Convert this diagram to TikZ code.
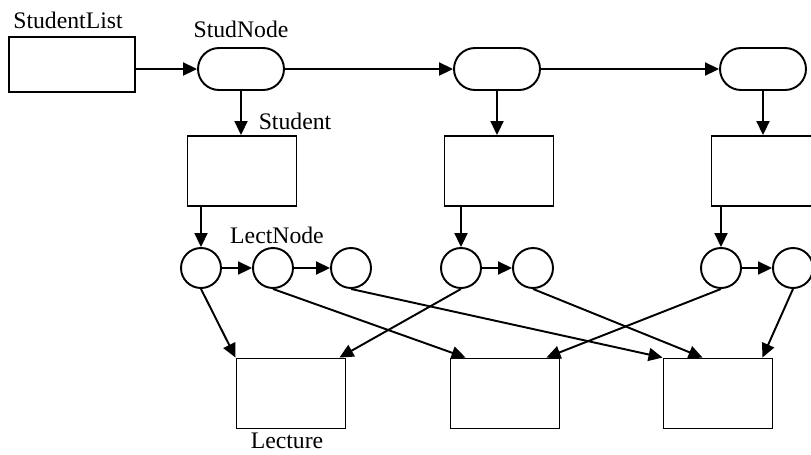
\documentclass[tikz,border=0pt]{standalone}
\usepackage{fontspec}
\setmainfont{Liberation Serif}
\usetikzlibrary{arrows.meta}

\begin{document}
\begin{tikzpicture}[x=0.02cm, y=-0.02cm, line width=1.1pt,
    >={Triangle[length=0.28cm, width=0.26cm]},
    listbox/.style={draw, minimum width=2.52cm, minimum height=1.1cm, inner sep=0pt},
    studbox/.style={draw, minimum width=2.18cm, minimum height=1.4cm, inner sep=0pt},
    studnode/.style={draw, rounded corners=0.42cm, minimum width=1.72cm, minimum height=0.84cm, inner sep=0pt},
    lectnode/.style={draw, circle, minimum size=0.8cm, inner sep=0pt},
    lbl/.style={font=\fontsize{13.5}{16}\selectfont, inner sep=0pt}]
    \useasboundingbox (0, 0) rectangle (811, 454);

    % the list and its student nodes
    \node[listbox] (list) at (72, 64.5) {};
    \node[lbl] (listlbl) at (68, 20) {StudentList};
    \node[studnode] (sn1) at (241, 69) {};
    \node[studnode] (sn2) at (497, 69) {};
    \node[studnode] (sn3) at (763, 69) {};
    \node[lbl] (snlbl) at (241, 29) {StudNode};
    \draw[->] (list.east |- sn1) -- (sn1);
    \draw[->] (sn1) -- (sn2);
    \draw[->] (sn2) -- (sn3);

    % students
    \node[studbox] (stu1) at (242, 171) {};
    \node[studbox] (stu2) at (499, 171) {};
    \node[studbox] (stu3) at (766, 171) {};
    \node[lbl] (stulbl) at (295, 121) {Student};
    \draw[->] (sn1.south) -- (sn1.south |- stu1.north);
    \draw[->] (sn2.south) -- (sn2.south |- stu2.north);
    \draw[->] (sn3.south) -- (sn3.south |- stu3.north);

    % lecture nodes
    \node[lectnode] (lc11) at (201, 268) {};
    \node[lectnode] (lc12) at (273, 268) {};
    \node[lectnode] (lc13) at (351, 268) {};
    \node[lectnode] (lc21) at (461, 268) {};
    \node[lectnode] (lc22) at (533, 268) {};
    \node[lectnode] (lc31) at (721, 268) {};
    \node[lectnode] (lc32) at (793, 268) {};
    \node[lbl] (lclbl) at (277, 235) {LectNode};
    \draw[->] (lc11.north |- stu1.south) -- (lc11);
    \draw[->] (lc21.north |- stu2.south) -- (lc21);
    \draw[->] (lc31.north |- stu3.south) -- (lc31);
    \draw[->] (lc11) -- (lc12);
    \draw[->] (lc12) -- (lc13);
    \draw[->] (lc21) -- (lc22);
    \draw[->] (lc31) -- (lc32);

    % lectures
    \node[studbox] (lec1) at (291, 393.5) {};
    \node[studbox] (lec2) at (505, 393.5) {};
    \node[studbox] (lec3) at (718, 393.5) {};
    \node[lbl] (leclbl) at (287, 441) {Lecture};
    \draw[->] (lc11.south) -- (lec1.north west);
    \draw[->] (lc12.south) -- ([xshift=0.32cm] lec2.north west);
    \draw[->] (lc13.south) -- (lec3.north west);
    \draw[->] (lc21.south) -- ([xshift=-0.14cm] lec1.north east);
    \draw[->] (lc22.south) -- ([xshift=0.8cm] lec3.north west);
    \draw[->] (lc31.south) -- ([xshift=-0.28cm] lec2.north east);
    \draw[->] (lc32.south) -- ([xshift=-0.22cm] lec3.north east);
\end{tikzpicture}
\end{document}
